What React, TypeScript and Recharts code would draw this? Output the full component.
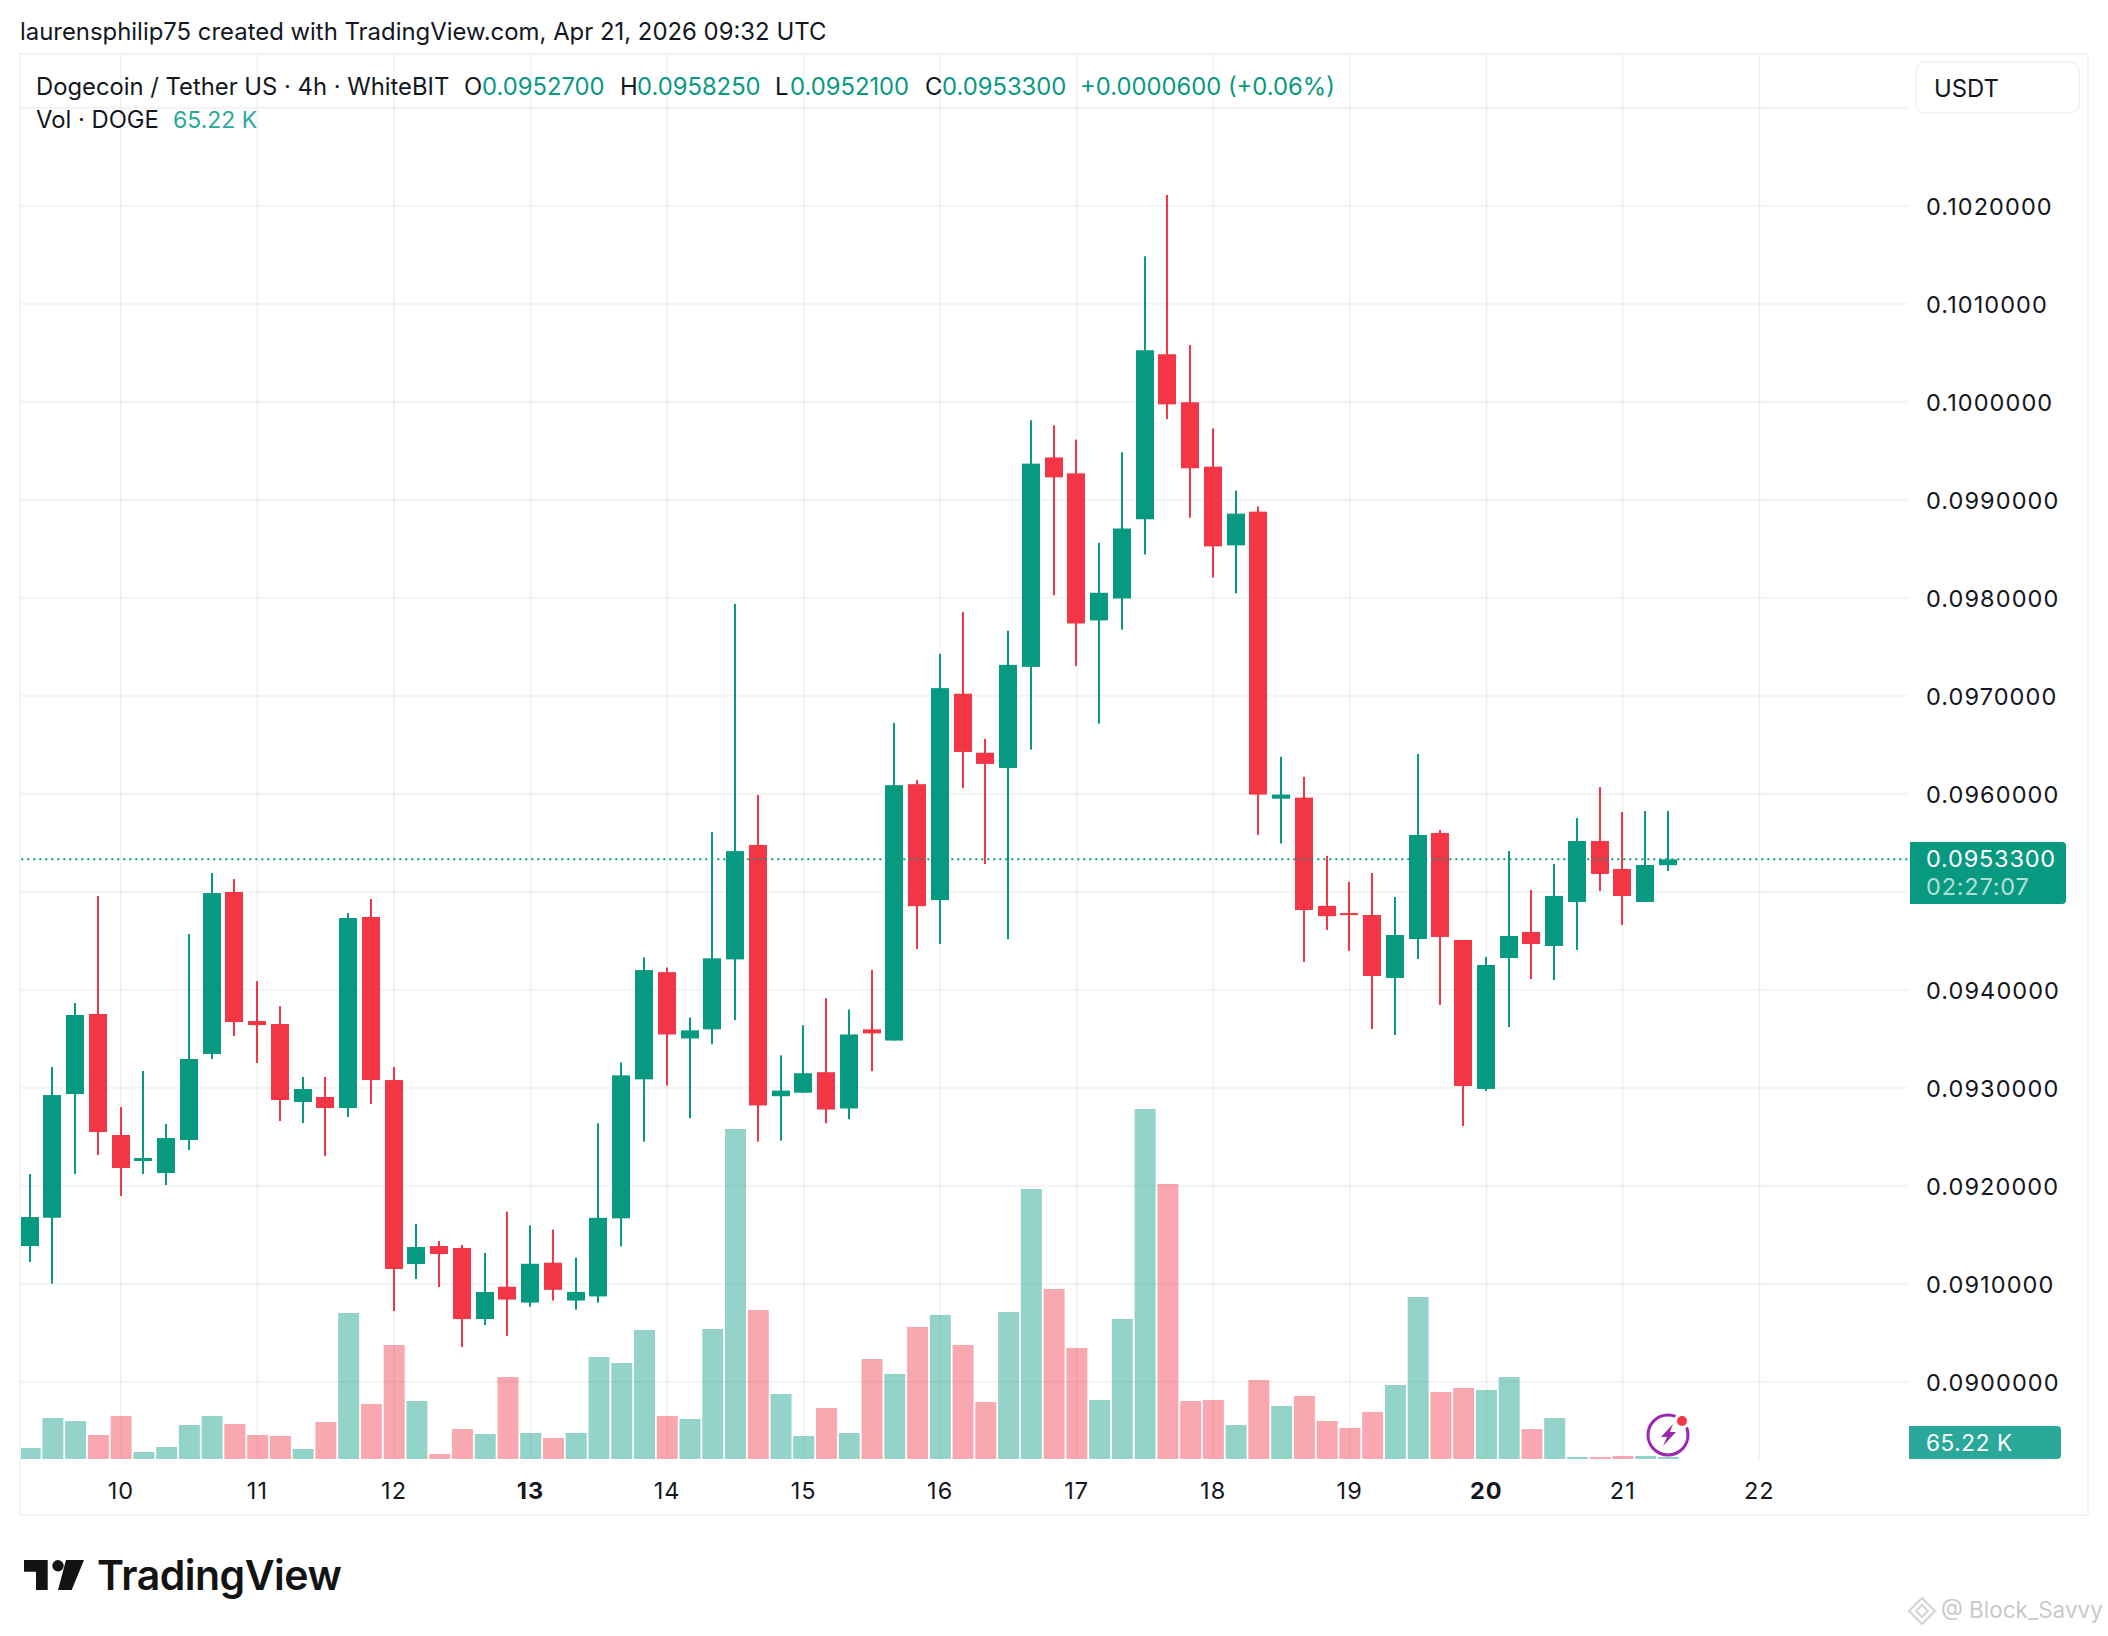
import React from 'react';
import { ComposedChart, Bar, XAxis, YAxis, CartesianGrid, ReferenceLine } from 'recharts';

const opens = [0.091384,0.091673,0.092935,0.093752,0.092517,0.092252,0.092129,0.092466,0.093344,0.094997,0.093680,0.093650,0.092854,0.092905,0.092793,0.094742,0.093078,0.091201,0.091384,0.091364,0.090639,0.090969,0.090807,0.091214,0.090828,0.090870,0.091667,0.093085,0.094179,0.093502,0.093595,0.094309,0.095477,0.092913,0.092949,0.093158,0.092788,0.093595,0.093481,0.096097,0.094914,0.097020,0.096418,0.096262,0.097294,0.099431,0.099269,0.097768,0.097992,0.098800,0.100484,0.099994,0.099337,0.098534,0.098878,0.095949,0.095960,0.094855,0.094782,0.094762,0.094119,0.094517,0.095599,0.094507,0.092987,0.094323,0.094589,0.094446,0.094895,0.095517,0.095232,0.094895,0.095270];
const highs = [0.092119,0.093211,0.093864,0.094956,0.092803,0.093170,0.092629,0.094568,0.095191,0.095129,0.094088,0.093833,0.093109,0.093109,0.094782,0.094925,0.093211,0.091609,0.091435,0.091395,0.091313,0.091735,0.091594,0.091552,0.091266,0.092636,0.093257,0.094330,0.094226,0.093715,0.095607,0.097937,0.095988,0.093330,0.093637,0.093913,0.093799,0.094200,0.096723,0.096139,0.097426,0.097854,0.096559,0.097664,0.099811,0.099759,0.099613,0.098560,0.099483,0.101484,0.102110,0.100578,0.099728,0.099092,0.098931,0.096377,0.096173,0.095366,0.095100,0.095191,0.094946,0.096405,0.095630,0.094507,0.094334,0.095415,0.095017,0.095283,0.095752,0.096068,0.095813,0.095823,0.095825];
const lows = [0.091221,0.091000,0.092119,0.092313,0.091895,0.092119,0.092007,0.092364,0.093293,0.093527,0.093252,0.092660,0.092639,0.092303,0.092701,0.092833,0.090721,0.091048,0.090966,0.090354,0.090578,0.090468,0.090765,0.090828,0.090734,0.090807,0.091380,0.092449,0.093022,0.092689,0.093444,0.093689,0.092449,0.092459,0.092949,0.092636,0.092678,0.093168,0.093481,0.094414,0.094466,0.096056,0.095282,0.094516,0.096450,0.098024,0.097304,0.096715,0.097674,0.098441,0.099822,0.098816,0.098206,0.098045,0.095579,0.095491,0.094281,0.094610,0.094396,0.093599,0.093538,0.094313,0.093844,0.092609,0.092966,0.093619,0.094109,0.094099,0.094405,0.095007,0.094660,0.094895,0.095210];
const closes = [0.091680,0.092925,0.093742,0.092548,0.092180,0.092282,0.092486,0.093293,0.094986,0.093670,0.093639,0.092874,0.092986,0.092793,0.094731,0.093078,0.091150,0.091374,0.091303,0.090639,0.090915,0.090838,0.091203,0.090937,0.090916,0.091672,0.093126,0.094200,0.093543,0.093585,0.094320,0.095414,0.092819,0.092970,0.093147,0.092777,0.093543,0.093554,0.096087,0.094852,0.097077,0.096426,0.096304,0.097315,0.099368,0.099228,0.097737,0.098050,0.098706,0.100525,0.099973,0.099321,0.098524,0.098858,0.095991,0.095991,0.094813,0.094750,0.094761,0.094140,0.094558,0.095579,0.094538,0.093017,0.094252,0.094548,0.094466,0.094956,0.095517,0.095181,0.094956,0.095272,0.095330];
const volumesK = [359,1337,1239,783,1402,228,391,1109,1402,1141,783,750,326,1207,4761,1794,3718,1891,163,978,815,2674,848,685,848,3326,3131,4207,1402,1304,4239,10761,4859,2120,750,1663,848,3261,2772,4305,4696,3718,1859,4794,8805,5544,3620,1924,4565,11414,8968,1891,1924,1109,2576,1728,2054,1239,1011,1533,2413,5283,2185,2315,2250,2674,978,1337,65,65,98,98,65.22];

const EMPTY_SLOTS = 10;
const dayTickIndex = [4,10,16,22,28,34,40,46,52,58,64,70,76];
const dayLabels = ['10','11','12','13','14','15','16','17','18','19','20','21','22'];
const boldDays = ['13','20'];
const priceTicks = [0.09,0.091,0.092,0.093,0.094,0.095,0.096,0.097,0.098,0.099,0.1,0.101,0.102,0.103];
const hiddenPriceLabels = [0.095,0.103];
const LAST_PRICE = 0.09533;

const UP = '#089981';
const DOWN = '#F23645';
const INK = '#131722';
const FONT = 'Inter, "Noto Sans", sans-serif';

const rows: any[] = [];
for (let i = 0; i < opens.length + EMPTY_SLOTS; i++) {
  if (i < opens.length) {
    rows.push({ i, open: opens[i], high: highs[i], low: lows[i], close: closes[i], vol: volumesK[i], range: [lows[i], highs[i]] });
  } else {
    rows.push({ i });
  }
}

function Candle(props: any) {
  const { x, y, width, height, payload } = props;
  if (!payload || payload.open == null) return null;
  const { open, high, low, close } = payload;
  const k = height / (high - low);
  const up = close >= open;
  const fill = up ? UP : DOWN;
  const top = y + (high - Math.max(open, close)) * k;
  const bot = y + (high - Math.min(open, close)) * k;
  const l = Math.round(x);
  const w = Math.round(width);
  const cx = l + w / 2;
  return (
    <g>
      <rect x={cx - 1} y={y} width={2} height={height} fill={fill} />
      <rect x={l} y={top} width={w} height={Math.max(bot - top, 2)} fill={fill} />
    </g>
  );
}

function VolumeBar(props: any) {
  const { x, y, width, height, payload } = props;
  if (!payload || payload.open == null) return null;
  const up = payload.close >= payload.open;
  return <rect x={x} y={y} width={width} height={height} fill={up ? UP : DOWN} fillOpacity={0.43} />;
}

function DayTick(props: any) {
  const { x, y, payload } = props;
  const label = dayLabels[dayTickIndex.indexOf(payload.value)];
  return (
    <text x={x} y={y + 29} textAnchor="middle" dominantBaseline="central" fontFamily={FONT} fontSize={23.5}
      letterSpacing={1.1} fontWeight={boldDays.includes(label) ? 700 : 400} fill={INK}>
      {label}
    </text>
  );
}

function PriceTick(props: any) {
  const { x, y, payload } = props;
  if (hiddenPriceLabels.some((p) => Math.abs(p - payload.value) < 1e-9)) return <g />;
  return (
    <text x={x} y={y + 0.8} textAnchor="start" dominantBaseline="central" fontFamily={FONT} fontSize={23.5}
      letterSpacing={1.08} fill={INK}>
      {payload.value.toFixed(7)}
    </text>
  );
}

const abs = (left: number, top: number, extra: any = {}): any => ({
  position: 'absolute', left, top, fontFamily: FONT, whiteSpace: 'nowrap', ...extra,
});

function Txt({ x, cy, size = 23.8, color = INK, weight = 400, children, spacing = 0 }: any) {
  return (
    <div style={abs(x, cy - 20, { height: 40, lineHeight: '40px', fontSize: size, color, fontWeight: weight, letterSpacing: spacing })}>
      {children}
    </div>
  );
}

const legendTop = 87;
const legendVol = 120;

export default function App() {
  return (
    <div style={{ position: 'absolute', left: 0, top: 0, width: 2108, height: 1636, background: '#fff', overflow: 'hidden' }}>
      <ComposedChart width={2108} height={1636} data={rows} margin={{ top: 54, right: 20, bottom: 0, left: 18.6 }} barGap={0} barCategoryGap={0}>
        <CartesianGrid xAxisId={0} yAxisId="price" stroke="rgba(46,46,46,0.06)" strokeWidth={2} syncWithTicks />
        <XAxis xAxisId={0} dataKey="i" type="category" ticks={dayTickIndex} interval={0} height={177} axisLine={false} tickLine={false} tick={DayTick} tickSize={0} />
        <XAxis xAxisId="vol" dataKey="i" type="category" hide />
        <YAxis yAxisId="price" orientation="right" width={180.7} domain={[0.089211, 0.103548]} allowDataOverflow ticks={priceTicks} interval={0} axisLine={false} tickLine={false} tick={PriceTick} tickSize={0} tickMargin={18.7} />
        <YAxis yAxisId="vol" hide domain={[0, 45817]} allowDataOverflow />
        <Bar xAxisId="vol" yAxisId="vol" dataKey="vol" barSize={21} shape={VolumeBar} isAnimationActive={false} />
        <Bar xAxisId={0} yAxisId="price" dataKey="range" barSize={18} shape={Candle} isAnimationActive={false} />
        <ReferenceLine xAxisId={0} yAxisId="price" y={LAST_PRICE} stroke={UP} strokeWidth={2} strokeDasharray="2 4" />
      </ComposedChart>

      <div style={{ position: 'absolute', left: 19, top: 53, width: 2070, height: 1463, boxSizing: 'border-box', border: '2px solid #f3f3f3', pointerEvents: 'none' }} />

      <Txt x={20} cy={32} size={23.9}>laurensphilip75 created with TradingView.com, Apr 21, 2026 09:32 UTC</Txt>

      <Txt x={36} cy={legendTop}>Dogecoin / Tether US · 4h · WhiteBIT</Txt>
      <Txt x={464} cy={legendTop}>O</Txt>
      <Txt x={482} cy={legendTop} color={UP}>0.0952700</Txt>
      <Txt x={620} cy={legendTop}>H</Txt>
      <Txt x={637} cy={legendTop} color={UP}>0.0958250</Txt>
      <Txt x={775} cy={legendTop}>L</Txt>
      <Txt x={790} cy={legendTop} color={UP}>0.0952100</Txt>
      <Txt x={925} cy={legendTop}>C</Txt>
      <Txt x={942} cy={legendTop} color={UP}>0.0953300</Txt>
      <Txt x={1080} cy={legendTop} color={UP}>+0.0000600 (+0.06%)</Txt>
      <Txt x={36} cy={legendVol}>Vol · DOGE</Txt>
      <Txt x={173} cy={legendVol} size={23} color="#2aa899">65.22 K</Txt>

      <div style={{ position: 'absolute', left: 1915, top: 61, width: 165, height: 53, boxSizing: 'border-box', border: '2px solid #f3f3f3', borderRadius: 10, background: '#fff' }} />
      <Txt x={1934} cy={89}>USDT</Txt>

      <div style={{ position: 'absolute', left: 1910, top: 842, width: 156, height: 62, background: UP, borderRadius: '0 4px 4px 0' }} />
      <Txt x={1926} cy={859} size={23.5} color="#fff" spacing={0.8}>0.0953300</Txt>
      <Txt x={1926} cy={887} size={23.5} color="rgba(255,255,255,0.7)" spacing={0.8}>02:27:07</Txt>

      <div style={{ position: 'absolute', left: 1909, top: 1426, width: 152, height: 33, background: '#2aa899', borderRadius: '0 4px 4px 0' }} />
      <Txt x={1926} cy={1443} size={22.5} color="#fff" spacing={0.6}>65.22 K</Txt>

      <svg width={2108} height={1636} style={{ position: 'absolute', left: 0, top: 0, pointerEvents: 'none' }}>
        <circle cx={1668} cy={1435} r={20} fill="none" stroke="#9c27b0" strokeWidth={3} />
        <polygon points="1673,1424 1661,1437 1667,1437 1663,1446 1676,1432 1670,1432" fill="#9c27b0" />
        <circle cx={1682} cy={1421} r={8} fill="#fff" />
        <circle cx={1682} cy={1421} r={5} fill={DOWN} />

        <path d="M24 1560H47.7V1590H36V1571.7H24Z" fill="#131313" />
        <circle cx={58} cy={1565.7} r={5.7} fill="#131313" />
        <path d="M66 1560H84L71.7 1590H58Z" fill="#131313" />
        <text x={97} y={1590} fontFamily={FONT} fontWeight={600} fontSize={41} letterSpacing={-0.5} fill="#131313">TradingView</text>

        <g fill="none" stroke="#d4d4d4" strokeWidth={2}>
          <path d="M1922 1598L1935 1611L1922 1624L1909 1611Z" />
          <path d="M1922 1605L1928 1611L1922 1617L1916 1611Z" />
        </g>
        <text x={1941} y={1618} fontFamily={FONT} fontSize={22.5} fill="#c9c9c9">@ Block_Savvy</text>
      </svg>
    </div>
  );
}
